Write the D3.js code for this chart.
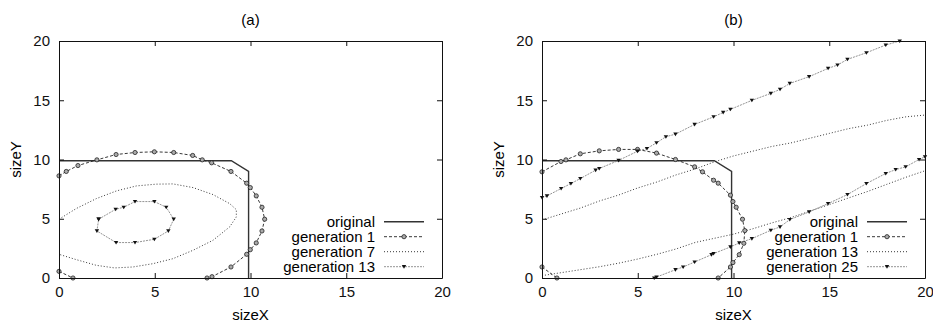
<!DOCTYPE html>
<html>
<head>
<meta charset="utf-8">
<script src="https://cdn.jsdelivr.net/npm/d3@7"></script>
<style>
  body { margin: 0; background: #fff; }
  svg { display: block; font-family: "Liberation Sans", Arial, sans-serif; }
</style>
</head>
<body>
<svg id="chart" width="933" height="322"></svg>
<script>
// shared shape
const original = [[0, 0], [0, 9.9], [9, 9.9], [9.9, 9.0], [9.9, 0]]

// panel (a)
const a_gen1 = [
  [[0, 8.62], [0.38, 8.99], [0.99, 9.49], [1.98, 9.97], [2.98, 10.42], [3.97, 10.59], [4.98, 10.65],
   [5.99, 10.59], [6.98, 10.34], [7.48, 9.97], [7.97, 9.72], [8.98, 8.99], [9.8, 8.0], [9.99, 7.63],
   [10.3, 6.93], [10.6, 5.97], [10.74, 4.96], [10.6, 3.97], [10.3, 2.96], [9.99, 2.39], [9.8, 2.0],
   [8.98, 0.93], [7.99, 0.11], [7.73, 0]],
  [[0, 0.56], [0.73, 0]]
]
const a_gen7 = [
  [[0, 4.96], [0.9, 5.86], [1.95, 6.7], [3.0, 7.35], [4.04, 7.77], [5.08, 7.92], [5.95, 7.94],
   [7.0, 7.63], [8.04, 7.04], [8.91, 6.28], [9.26, 5.77], [9.26, 5.15], [8.91, 4.31], [8.04, 3.18],
   [7.0, 2.34], [5.95, 1.63], [4.91, 1.21], [3.86, 0.93], [2.9, 0.85], [1.95, 1.07], [0.9, 1.55], [0, 2.0]]
]
const a_gen13 = [
  [[2.07, 4.96], [2.96, 5.8], [3.38, 5.97], [3.97, 6.45], [4.98, 6.45], [5.6, 5.97], [5.99, 4.96],
   [5.71, 3.97], [4.98, 3.27], [3.97, 2.99], [2.98, 2.99], [1.98, 3.97], [2.07, 4.96]]
]

// panel (b)
const b_gen1 = [
  [[0, 8.96], [0.99, 9.83], [1.25, 9.97], [2.0, 10.48], [2.99, 10.73], [4.0, 10.85], [4.99, 10.85],
   [5.98, 10.54], [6.97, 10.0], [7.97, 9.38], [8.38, 8.96], [8.96, 8.25], [9.2, 8.0], [9.84, 6.99],
   [9.97, 6.45], [10.14, 5.97], [10.47, 4.96], [10.59, 4.0], [10.54, 2.93], [10.3, 1.97], [9.97, 1.3],
   [9.84, 0.93], [9.2, 0]],
  [[0, 0.93], [0.78, 0]]
]
const b_gen13 = [
  [[0, 4.9], [1, 5.4], [2, 5.9], [3, 6.5], [4, 7.0], [5, 7.6], [6, 8.1], [7, 8.7], [8, 9.2], [9, 9.8],
   [10, 10.3], [11, 10.7], [12, 11.1], [13, 11.4], [14, 11.8], [15, 12.2], [16, 12.6], [17, 12.9],
   [18, 13.3], [19, 13.6], [20, 13.75]],
  [[0, 0.2], [1, 0.45], [2, 0.7], [3, 0.95], [4, 1.25], [5, 1.6], [6, 2.0], [7, 2.45], [8, 3.0],
   [9, 3.35], [10, 3.7], [11, 4.15], [12, 4.65], [13, 5.1], [14, 5.65], [15, 6.2], [16, 6.75],
   [17, 7.3], [18, 7.9], [19, 8.5], [20, 9.05]]
]
const b_gen25 = [
  [[0, 6.79], [0.26, 6.93], [1.0, 7.55], [1.51, 7.97], [2.0, 8.39], [2.8, 9.1], [2.99, 9.24],
   [4.0, 9.92], [4.99, 10.7], [5.48, 10.93], [5.98, 11.41], [6.47, 11.92], [6.97, 12.14],
   [7.97, 12.96], [8.96, 13.6], [9.46, 13.97], [9.84, 14.23], [10.96, 14.99], [11.95, 15.58],
   [12.43, 15.92], [12.94, 16.42], [13.95, 16.99], [14.94, 17.69], [15.43, 17.97], [15.95, 18.45],
   [16.94, 19.01], [17.95, 19.66], [18.68, 20]],
  [[5.86, 0], [5.98, 0.08], [6.97, 0.7], [7.37, 0.93], [7.97, 1.35], [8.85, 1.97], [8.96, 2.06],
   [9.84, 2.62], [10.3, 2.96], [10.96, 3.32], [11.95, 4.03], [12.43, 4.31], [12.94, 4.93],
   [13.95, 5.58], [14.94, 6.28], [15.95, 7.04], [16.94, 7.97], [17.95, 8.82], [18.47, 9.15],
   [18.99, 9.38], [19.69, 10.0], [20, 10.23]]
]

const ticks = [0, 5, 10, 15, 20]

const styles = {
  original: {stroke: '#333', width: 1.4, dash: null, marker: null},
  circles:  {stroke: '#222', width: 0.9, dash: '3,2', marker: 'circle'},
  dotted:   {stroke: '#222', width: 0.9, dash: '1,2', marker: null},
  tri:      {stroke: '#777', width: 0.8, dash: '2,1', marker: 'tri'},
}

const panels = [
  {id: 'a', title: '(a)', left: 59, right: 442,
   series: [
     {name: 'original', data: [original], style: styles.original},
     {name: 'generation 1', data: a_gen1, style: styles.circles},
     {name: 'generation 7', data: a_gen7, style: styles.dotted},
     {name: 'generation 13', data: a_gen13, style: styles.tri},
   ]},
  {id: 'b', title: '(b)', left: 542, right: 925,
   series: [
     {name: 'original', data: [original], style: styles.original},
     {name: 'generation 1', data: b_gen1, style: styles.circles},
     {name: 'generation 13', data: b_gen13, style: styles.dotted},
     {name: 'generation 25', data: b_gen25, style: styles.tri},
   ]},
]

const svg = d3.select('#chart')
const top_ = 41, bottom = 278
const fs = 15

function marker(g, kind, x, y) {
  if (kind == 'circle') {
    g.append('circle').attr('cx', x).attr('cy', y).attr('r', 2.1)
      .attr('fill', '#aaa').attr('stroke', '#222').attr('stroke-width', 0.8)
  } else if (kind == 'tri') {
    g.append('path').attr('d', `M${x - 2.2},${y - 1.6} L${x + 2.2},${y - 1.6} L${x},${y + 2} Z`)
      .attr('fill', '#111')
  }
}

for (const p of panels) {
  const x = d3.scaleLinear().domain([0, 20]).range([p.left, p.right])
  const y = d3.scaleLinear().domain([0, 20]).range([bottom, top_])

  const g = svg.append('g')

  g.append('clipPath').attr('id', 'clip-' + p.id)
    .append('rect').attr('x', p.left).attr('y', top_)
    .attr('width', p.right - p.left).attr('height', bottom - top_)

  const line = d3.line().x(d => x(d[0])).y(d => y(d[1]))

  const plot = g.append('g').attr('clip-path', `url(#clip-${p.id})`)
  for (const s of p.series) {
    for (const seg of s.data) {
      plot.append('path').attr('d', line(seg)).attr('fill', 'none')
        .attr('stroke', s.style.stroke).attr('stroke-width', s.style.width)
        .attr('stroke-dasharray', s.style.dash)
    }
  }
  const marks = g.append('g')
  for (const s of p.series) {
    if (!s.style.marker) continue
    for (const seg of s.data) for (const d of seg) marker(marks, s.style.marker, x(d[0]), y(d[1]))
  }

  // axes, gnuplot style: ticks inward on all sides
  g.append('g').attr('transform', `translate(0,${bottom})`)
    .call(d3.axisBottom(x).tickValues(ticks).tickSize(-5).tickPadding(8).tickSizeOuter(0))
  g.append('g').attr('transform', `translate(0,${top_})`)
    .call(d3.axisTop(x).tickValues(ticks).tickSize(-5).tickFormat('').tickSizeOuter(0))
  g.append('g').attr('transform', `translate(${p.left},0)`)
    .call(d3.axisLeft(y).tickValues(ticks).tickSize(-5).tickPadding(9).tickSizeOuter(0))
  g.append('g').attr('transform', `translate(${p.right},0)`)
    .call(d3.axisRight(y).tickValues(ticks).tickSize(-5).tickFormat('').tickSizeOuter(0))
  g.selectAll('.tick text').attr('font-size', fs).attr('font-family', '"Liberation Sans", Arial, sans-serif').attr('fill', '#111')
  g.selectAll('.domain').attr('stroke', '#111')
  g.selectAll('.tick line').attr('stroke', '#111')

  // titles
  g.append('text').attr('x', (p.left + p.right) / 2).attr('y', 20).attr('dy', '0.35em')
    .attr('text-anchor', 'middle').attr('font-size', fs).text(p.title)
  g.append('text').attr('x', (p.left + p.right) / 2).attr('y', 315).attr('dy', '0.35em')
    .attr('text-anchor', 'middle').attr('font-size', fs).text('sizeX')
  g.append('text').attr('transform', `translate(${p.left - 43},${(top_ + bottom) / 2}) rotate(-90)`)
    .attr('dy', '0.35em').attr('text-anchor', 'middle').attr('font-size', fs).text('sizeY')

  // legend
  const lx = p.right - 67, ly = 221.7
  p.series.forEach((s, i) => {
    const yy = ly + i * 15
    g.append('text').attr('x', lx).attr('y', yy).attr('dy', '0.35em')
      .attr('text-anchor', 'end').attr('font-size', fs).text(s.name)
    g.append('line').attr('x1', lx + 9).attr('x2', lx + 49).attr('y1', yy).attr('y2', yy)
      .attr('stroke', s.style.stroke).attr('stroke-width', s.style.width)
      .attr('stroke-dasharray', s.style.dash)
    if (s.style.marker) marker(g, s.style.marker, lx + 29, yy)
  })
}
</script>
</body>
</html>
